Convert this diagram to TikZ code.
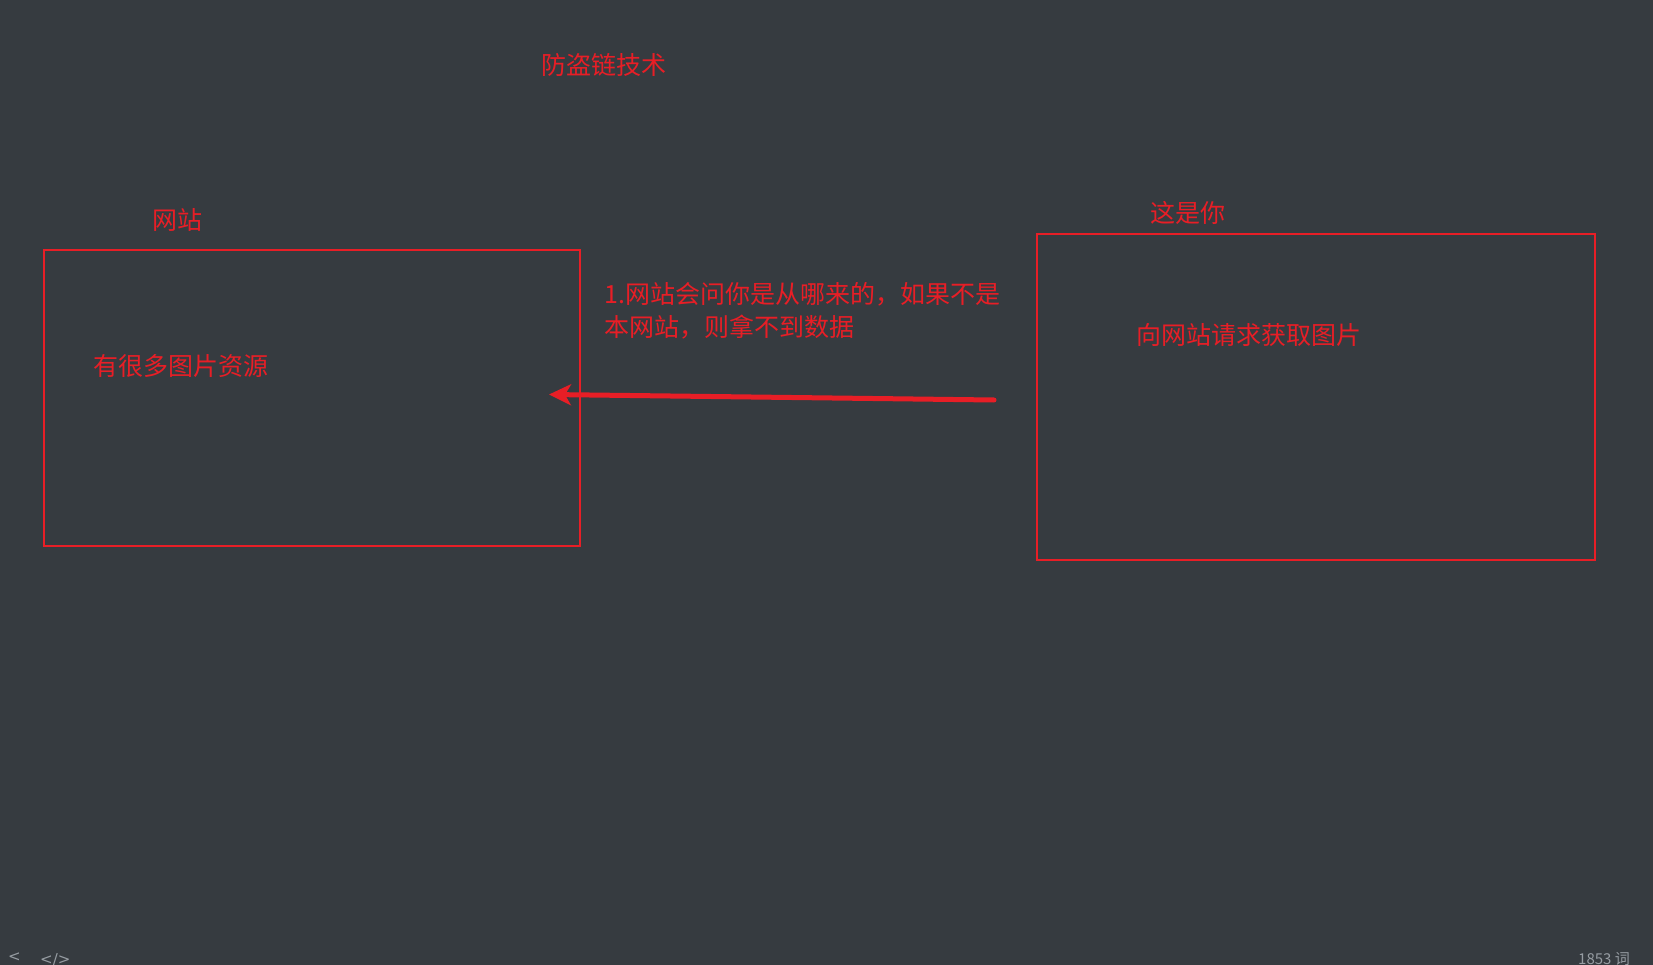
\documentclass[tikz,border=0pt]{standalone}
\usepackage{fontspec}
\setmainfont{Noto Sans CJK SC}
\newfontfamily\uifont{DejaVu Sans}
\usetikzlibrary{arrows.meta}
\definecolor{bg}{RGB}{54,59,64}
\definecolor{rd}{RGB}{232,30,38}
\definecolor{gr}{RGB}{150,156,162}
\begin{document}
\begin{tikzpicture}[x=1pt,y=-1pt,
  frame/.style={draw=rd, line width=1.6pt, inner sep=0pt},
  lbl/.style={text=rd, inner sep=0pt, anchor=west, font=\fontsize{25}{33}\selectfont},
  ttl/.style={text=rd, inner sep=0pt, anchor=west, font=\fontsize{25}{30}\selectfont},
  ui/.style={text=gr, inner sep=0pt, anchor=north west, font=\uifont\fontsize{15}{18}\selectfont},
  uicjk/.style={text=gr, inner sep=0pt, anchor=north west, font=\fontsize{15}{18}\selectfont},
  flow/.style={draw=rd, line width=5pt, line cap=round, -{Stealth[length=22pt,width=21pt,inset=6pt]}}]
\fill[bg] (0,0) rectangle (1653,965);
\useasboundingbox (0,0) rectangle (1653,965);

\node[frame, minimum width=536pt, minimum height=296pt, anchor=north west] (site) at (43,249) {};
\node[frame, minimum width=558pt, minimum height=326pt, anchor=north west] (you) at (1036,233) {};

\node[ttl] (title) at (541,65) {防盗链技术};
\node[lbl] (sitelbl) at (152,220) {网站};
\node[lbl] (youlbl) at (1150,213) {这是你};
\node[lbl] (res) at (93,366) {有很多图片资源};
\node[lbl] (req) at (1136,335) {向网站请求获取图片};
\node[lbl, align=left] (note) at (604,311) {1.网站会问你是从哪来的，如果不是\\本网站，则拿不到数据};

\coordinate (tail) at (994,400);
\coordinate (tip) at (549,394.5);
\draw[flow] (tail) -- (tip);

\node[ui] (back) at (8,953) {<};
\node[ui] (code) at (40,953) {</>};
\node[uicjk] (count) at (1578,952) {1853 词};
\end{tikzpicture}
\end{document}
